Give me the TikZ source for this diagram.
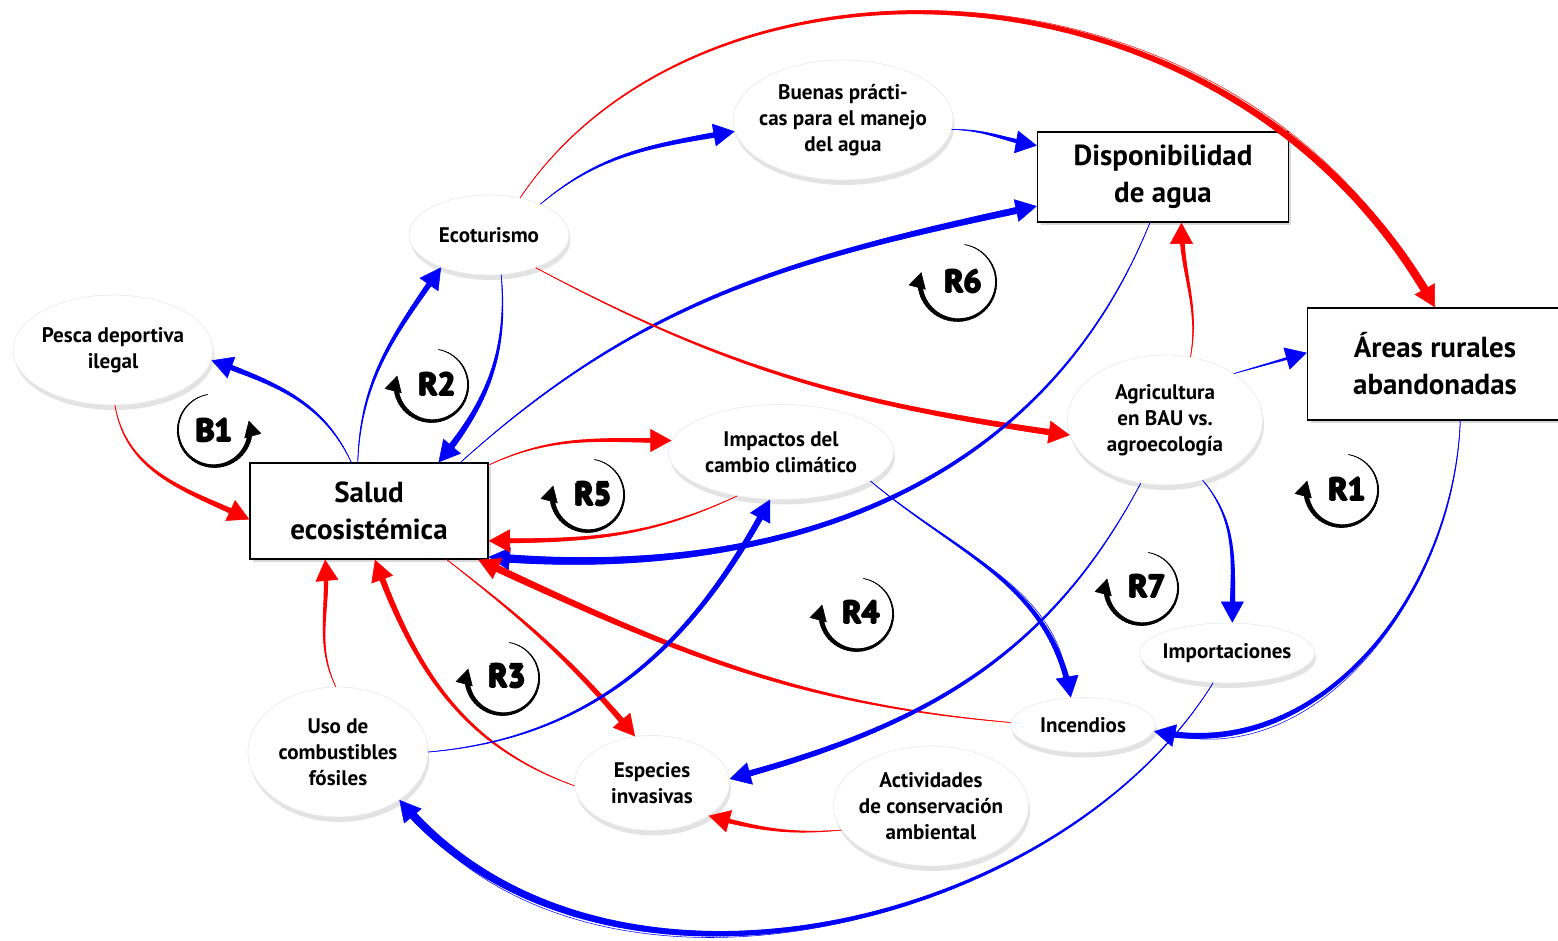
\documentclass[tikz,border=0pt]{standalone}
\usepackage{fontspec}
\setmainfont{PT Sans}
\usepackage{tikz}
\usetikzlibrary{positioning, arrows.meta, shapes.geometric, shadows, decorations.markings}

\newcommand{\heavytext}[1]{\rlap{\kern-0.6pt#1}\rlap{\kern0.6pt#1}\rlap{\raisebox{0.6pt}{#1}}\rlap{\raisebox{-0.6pt}{#1}}#1}

\tikzset{
  var/.style={ellipse, fill=white, draw=black!8, inner sep=-1cm, align=center,
    font=\bfseries\fontsize{12}{14.7}\selectfont,
    drop shadow={opacity=0.22, shadow xshift=0.03cm, shadow yshift=-0.1cm}},
  stock/.style={rectangle, fill=white, draw=black, line width=0.8pt, align=center,
    font=\bfseries\fontsize{16.5}{21}\selectfont,
    drop shadow={opacity=0.3, shadow xshift=0.06cm, shadow yshift=-0.06cm}},
  taper/.style n args={3}{draw=#1, line width=0.3pt,
    -{Triangle[length=#3pt,width=#3pt+1pt]},
    postaction={decorate, decoration={markings,
      mark=between positions 0 and -10pt step 2pt with {
        \draw[arrows=-, #1, line cap=round,
          line width={(0.3+(#2-0.3)*\pgfkeysvalueof{/pgf/decoration/mark info/distance from start}/\pgfdecoratedpathlength)*1pt}]
          (0,0) -- (2.3pt,0);}}}},
  link/.style args={#1/#2}{taper={#1}{#2}{12}},
  loopar/.style={taper={black}{3}{9}},
  looplbl/.style={font=\bfseries\fontsize{18}{18}\selectfont, inner sep=0pt},
}

\begin{document}
\begin{tikzpicture}[x=0.02cm, y=0.02cm]
\useasboundingbox[fill=white] (0,0) rectangle (1558,-940);
% stocks
\node[stock, minimum width=4.76cm, minimum height=1.92cm] (salud) at (369,-511) {Salud\\ecosistémica};
\node[stock, minimum width=5.02cm, minimum height=1.8cm] (dispo) at (1163,-177) {Disponibilidad\\de agua};
\node[stock, minimum width=5.1cm, minimum height=2.24cm] (areas) at (1435,-364) {Áreas rurales\\abandonadas};
% variables
\node[var, minimum width=4cm, minimum height=2.2cm] (pesca) at (113,-350) {Pesca deportiva\\ilegal};
\node[var, minimum width=3.2cm, minimum height=1.6cm] (eco) at (489,-235) {Ecoturismo};
\node[var, minimum width=4.4cm, minimum height=2.4cm] (buenas) at (843,-120) {Buenas prácti-\\cas para el manejo\\del agua};
\node[var, minimum width=4.5cm, minimum height=1.9cm] (impactos) at (781,-452) {Impactos del\\cambio climático};
\node[var, minimum width=3.9cm, minimum height=2.6cm] (agri) at (1165,-420) {Agricultura\\en BAU vs.\\agroecología};
\node[var, minimum width=3.5cm, minimum height=1.2cm] (impo) at (1227,-653) {Importaciones};
\node[var, minimum width=2.9cm, minimum height=1.1cm] (incendios) at (1083,-725) {Incendios};
\node[var, minimum width=3.6cm, minimum height=2.6cm] (uso) at (338,-752) {Uso de\\combustibles\\fósiles};
\node[var, minimum width=3.1cm, minimum height=1.9cm] (especies) at (652,-783) {Especies\\invasivas};
\node[var, minimum width=3.9cm, minimum height=2.4cm] (activ) at (931,-806) {Actividades\\de conservación\\ambiental};
% links
\draw[link=red/3.4] (pesca.-88) to[out=-80, in=155] (salud.184);
\draw[link=blue/3.4] (salud.110) to[out=115, in=-20] (pesca.-6);
\draw[link=blue/3.4] (salud.103) to[out=88, in=235] (eco.214);
\draw[link=blue/4] (eco.-73) to[out=-85, in=50] (salud.35);
\draw[link=blue/4] (salud.28) to[out=42, in=192] (dispo.193);
\draw[link=blue/3.4] (eco.31) to[out=40, in=190] (buenas.186);
\draw[link=blue/3] (buenas.-5) to[out=0, in=170] (dispo.166);
\draw[link=red/4.8] (eco.50) .. controls (700,70) and (1230,60) .. (areas.north);
\draw[link=red/3.6] (eco.-35) to[out=-28, in=172] (agri.189);
\draw[link=red/3] (agri.68) to[out=80, in=-90] (dispo.-68);
\draw[link=blue/2] (agri.34) -- (areas.175);
\draw[link=blue/4.8] (dispo.-106) to[out=-112, in=-5] (salud.-21);
\draw[link=red/3] (salud.21) to[out=25, in=180] (impactos.174);
\draw[link=red/3] (impactos.225) to[out=205, in=0] (salud.-14);
\draw[link=blue/3.4] (impactos.-18) to[out=-40, in=100] (incendios.114);
\draw[link=red/4.2] (incendios.178) to[out=175, in=-25] (salud.-24);
\draw[link=red/3.6] (salud.-32) to[out=-38, in=130] (especies.110);
\draw[link=red/3.6] (especies.182) to[out=160, in=-70] (salud.-83);
\draw[link=red/3] (uso.92) to[out=115, in=-85] (salud.-132);
\draw[link=blue/3.6] (uso.0) to[out=5, in=-118] (impactos.-103);
\draw[link=blue/3.6] (agri.-111) to[out=-118, in=15] (especies.3);
\draw[link=blue/3.4] (agri.-58) to[out=-50, in=90] (impo.80);
\draw[link=blue/3.6] (areas.-66) to[out=-92, in=-12] (incendios.-5);
\draw[link=blue/4.8] (impo.-115) .. controls (1060,-930) and (600,-1040) .. (uso.-38);
\draw[link=red/3] (activ.195) to[out=185, in=-15] (especies.-30);
% loops
\draw[loopar] ([shift={(100:0.72cm)}]214,-430) arc[start angle=100, end angle=375, radius=0.72cm];
\node[looplbl] (b1) at (214,-430) {\heavytext{B1}};
\draw[loopar] ([shift={(80:0.72cm)}]432,-385) arc[start angle=80, end angle=-195, radius=0.72cm];
\node[looplbl] (r2) at (437,-384) {\heavytext{R2}};
\draw[loopar] ([shift={(80:0.76cm)}]958,-282) arc[start angle=80, end angle=-195, radius=0.76cm];
\node[looplbl] (r6) at (963,-281) {\heavytext{R6}};
\draw[loopar] ([shift={(80:0.72cm)}]588,-495) arc[start angle=80, end angle=-195, radius=0.72cm];
\node[looplbl] (r5) at (593,-494) {\heavytext{R5}};
\draw[loopar] ([shift={(80:0.72cm)}]1342,-490) arc[start angle=80, end angle=-195, radius=0.72cm];
\node[looplbl] (r1) at (1347,-489) {\heavytext{R1}};
\draw[loopar] ([shift={(80:0.72cm)}]1142,-588) arc[start angle=80, end angle=-195, radius=0.72cm];
\node[looplbl] (r7) at (1147,-586) {\heavytext{R7}};
\draw[loopar] ([shift={(80:0.72cm)}]857,-614) arc[start angle=80, end angle=-195, radius=0.72cm];
\node[looplbl] (r4) at (861,-612) {\heavytext{R4}};
\draw[loopar] ([shift={(80:0.72cm)}]503,-678) arc[start angle=80, end angle=-195, radius=0.72cm];
\node[looplbl] (r3) at (507,-676) {\heavytext{R3}};
\end{tikzpicture}
\end{document}
